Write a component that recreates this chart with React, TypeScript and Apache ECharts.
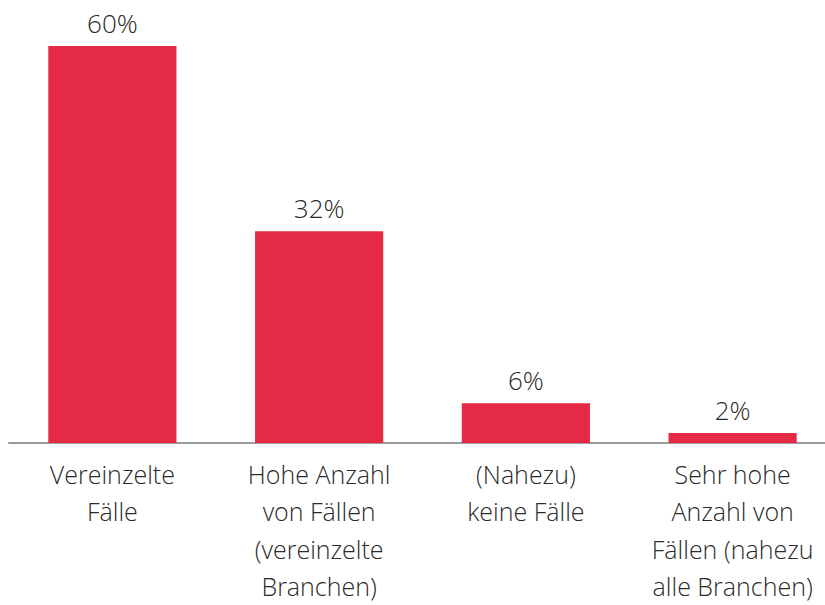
import React, { useEffect, useRef } from "react";
import * as echarts from "echarts";

const categories = [
  "Vereinzelte\nFälle",
  "Hohe Anzahl\nvon Fällen\n(vereinzelte\nBranchen)",
  "(Nahezu)\nkeine Fälle",
  "Sehr hohe\nAnzahl von\nFällen (nahezu\nalle Branchen)",
];
const values = [60, 32, 6, 1.5];
const labels = ["60%", "32%", "6%", "2%"];

const FONT = "'Open Sans', 'Noto Sans', sans-serif";

export default function App() {
  const ref = useRef<HTMLDivElement>(null);
  useEffect(() => {
    document.body.style.margin = "0";
    const chart = echarts.init(ref.current!, null, { renderer: "svg" });
    chart.setOption({
      animation: false,
      grid: { left: 9, right: 0, top: 46, bottom: 161.5, containLabel: false },
      xAxis: {
        type: "category",
        data: categories,
        axisLine: { lineStyle: { color: "#9a9a9a", width: 2 } },
        axisTick: { show: false },
        axisLabel: {
          interval: 0,
          margin: 12,
          color: "#2a2a2a",
          fontFamily: FONT,
          fontWeight: 300,
          fontSize: 25,
          lineHeight: 37.5,
          verticalAlign: "top",
        },
      },
      yAxis: {
        type: "value",
        min: 0,
        max: 60,
        show: false,
        splitLine: { show: false },
      },
      series: [
        {
          type: "bar",
          data: values,
          barWidth: "62%",
          itemStyle: { color: "#E52A45" },
          label: {
            show: true,
            position: "top",
            distance: 10,
            color: "#2a2a2a",
            fontFamily: FONT,
            fontWeight: 300,
            fontSize: 26,
            formatter: (p: any) => labels[p.dataIndex],
          },
        },
      ],
    });
    return () => chart.dispose();
  }, []);
  return (
    <div style={{ width: 825, height: 605, overflow: "hidden", position: "relative" }}>
      <div ref={ref} style={{ width: 836, height: 605 }} />
    </div>
  );
}
